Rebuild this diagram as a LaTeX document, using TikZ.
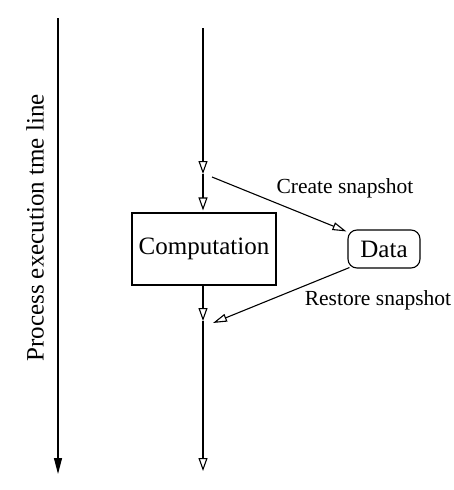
\documentclass[tikz,border=0pt]{standalone}
\usepackage{fontspec}
\setmainfont{Liberation Serif}
\usetikzlibrary{arrows.meta}
\begin{document}
\begin{tikzpicture}[x=1pt,y=1pt,
  flow/.style={line width=1.1pt,-{Triangle[open,length=13pt,width=9pt,line width=1.1pt]}},
  snap/.style={line width=1.1pt,-{Triangle[open,length=14pt,width=8pt,line width=1.1pt]}},
  timeline/.style={line width=1.1pt,-{Triangle[length=16pt,width=8pt]}},
  procbox/.style={draw,line width=1.1pt,minimum width=144pt,minimum height=72pt,inner sep=0pt,font=\fontsize{25}{28}\selectfont},
  databox/.style={draw,line width=1.1pt,rounded corners=9pt,minimum width=72pt,minimum height=38pt,inner sep=0pt,font=\fontsize{25}{28}\selectfont},
  lbl/.style={font=\fontsize{21.5}{24}\selectfont,inner sep=0pt}]
\useasboundingbox (0,0) rectangle (453,-490);

% time axis on the left
\coordinate (ttop) at (58,-18);
\coordinate (tbot) at (58,-474);
\draw[timeline] (ttop) -- (tbot);
\node[font=\fontsize{25}{28}\selectfont,rotate=90,inner sep=0pt] (tlabel) at (35,-228) {Process execution tme line};

% process flow
\coordinate (top) at (203,-28);
\coordinate (p1) at (203,-174);
\coordinate (p2) at (203,-321);
\coordinate (bot) at (203,-471);
\node[procbox] (comp) at (204,-249) {Computation};
\node[databox] (data) at (384,-249) {Data};

\draw[flow] (top) -- (p1);
\draw[flow,shorten >=2pt] (p1) -- (comp.north -| p1);
\draw[flow] (comp.south -| p2) -- (p2);
\draw[flow] (p2) -- (bot);

% snapshots
\coordinate (cs) at (212,-177);
\coordinate (rs) at (213,-323);
\draw[snap] (cs) -- ([shift={(-1,-2)}]data.north west);
\draw[snap] ([shift={(2,1)}]data.south west) -- (rs);
\node[lbl] (clabel) at (345,-188) {Create snapshot};
\node[lbl] (rlabel) at (378,-300) {Restore snapshot};
\end{tikzpicture}
\end{document}
